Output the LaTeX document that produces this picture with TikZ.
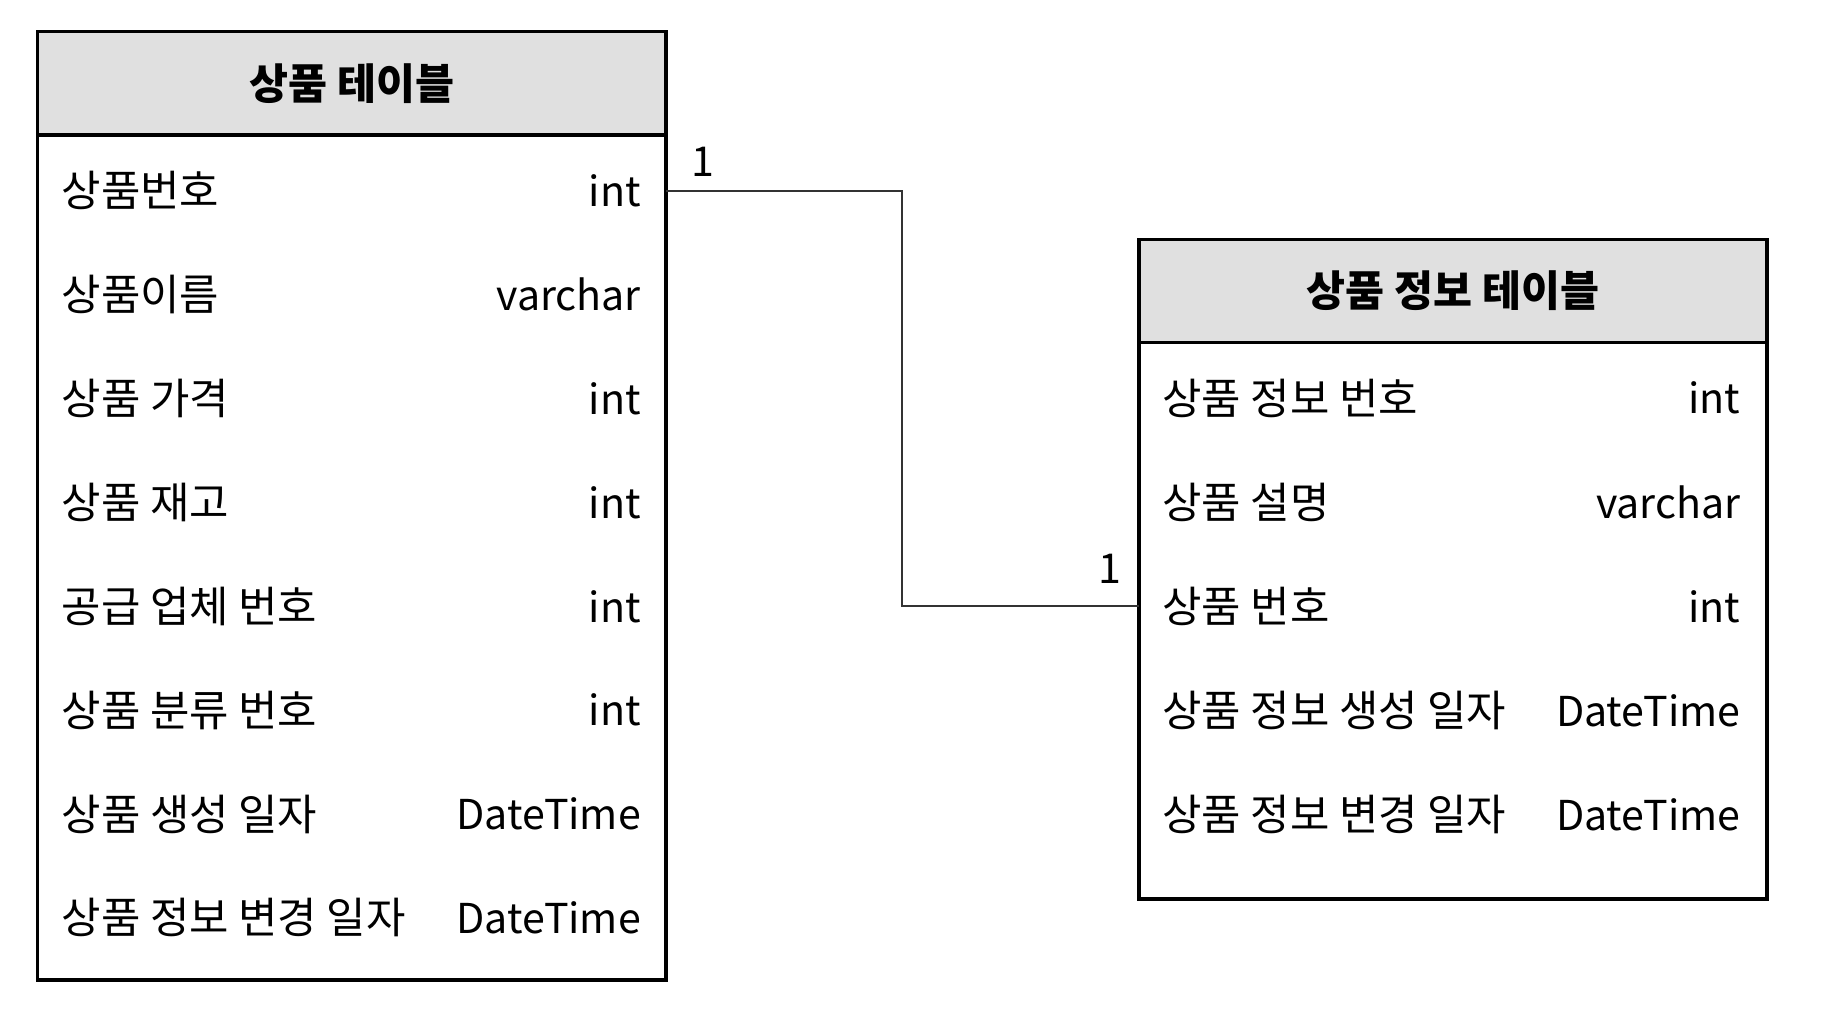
\documentclass[tikz,border=0pt]{standalone}
\usepackage{fontspec}
\setmainfont{Noto Sans CJK KR}
\usetikzlibrary{positioning}
\definecolor{headgray}{HTML}{E0E0E0}
\definecolor{linegray}{HTML}{333333}
\begin{document}
\begin{tikzpicture}[
	head/.style={
		rectangle, draw=black, line width=0.9pt, fill=headgray,
		minimum width=5.37cm, minimum height=0.88cm, outer sep=0pt,
		font=\fontsize{10.3}{12}\selectfont\bfseries
	},
	body/.style={
		rectangle, draw=black, line width=0.9pt,
		minimum width=5.37cm, outer sep=0pt
	},
	field/.style={anchor=west, inner sep=0pt, font=\fontsize{10.4}{12}\selectfont},
	kind/.style={anchor=east, inner sep=0pt, font=\fontsize{10}{12}\selectfont},
	card/.style={inner sep=0pt, font=\fontsize{10}{12}\selectfont},
	link/.style={draw=linegray, line width=0.5pt},
	]
	\useasboundingbox (0,0) rectangle (15.68,-8.68);

	\node [head] (ph) at (3.005,-0.71) {상품 테이블};
	\node [body, minimum height=7.22cm, below=0pt of ph] (pb) {};
	\foreach \name/\type [count=\i] in {상품번호/int, 상품이름/varchar, 상품 가격/int,
		상품 재고/int, 공급 업체 번호/int, 상품 분류 번호/int,
		상품 생성 일자/DateTime, 상품 정보 변경 일자/DateTime} {
		\node [field] (pn\i) at (0.52,{-1.63-0.887*(\i-1)}) {\name};
		\node [kind] (pt\i) at (5.48,{-1.63-0.887*(\i-1)}) {\type};
	}

	\node [head, minimum width=5.36cm] (ih) at (12.41,-2.485) {상품 정보 테이블};
	\node [body, minimum width=5.36cm, minimum height=4.75cm, below=0pt of ih] (ib) {};
	\foreach \name/\type [count=\i] in {상품 정보 번호/int, 상품 설명/varchar,
		상품 번호/int, 상품 정보 생성 일자/DateTime, 상품 정보 변경 일자/DateTime} {
		\node [field] (in\i) at (9.92,{-3.40-0.889*(\i-1)}) {\name};
		\node [kind] (it\i) at (14.87,{-3.40-0.889*(\i-1)}) {\type};
	}

	\coordinate (bend) at (7.70,0);
	\path [link] (pt1 -| pb.east) -- (pt1 -| bend) |- (in3 -| ib.west);
	\node [card] (cp) at (6.00,-1.38) {1};
	\node [card] (ci) at (9.48,-4.86) {1};
\end{tikzpicture}
\end{document}
